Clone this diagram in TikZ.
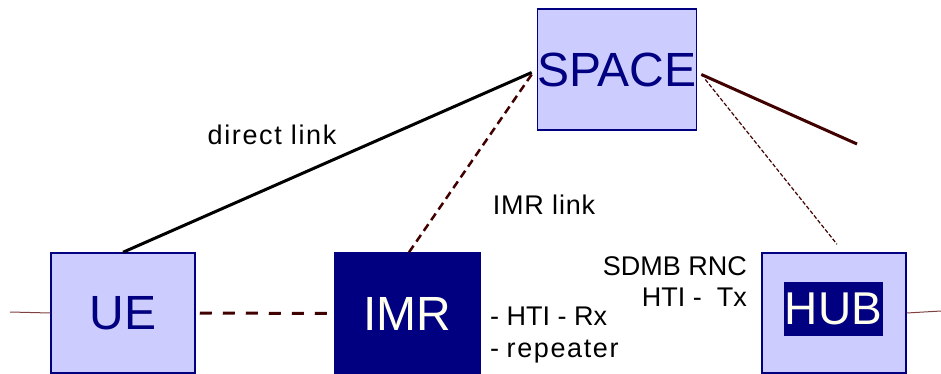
\documentclass[tikz,border=0pt]{standalone}
\usepackage{fontspec}
\setmainfont{Liberation Sans}
\newfontfamily\widesans[LetterSpace=6]{Liberation Sans}
\newfontfamily\midsans[LetterSpace=3]{Liberation Sans}
\definecolor{navy}{RGB}{0,0,128}
\definecolor{lav}{RGB}{204,204,255}
\definecolor{cream}{RGB}{255,255,240}
\definecolor{brn}{RGB}{64,0,0}
\definecolor{thinbrn}{RGB}{128,64,64}
\tikzset{
  unit/.style={draw=navy, line width=1.5pt, fill=lav, text=navy,
    minimum width=144, minimum height=120, inner sep=0pt,
    font=\fontsize{48}{48}\selectfont},
  darkunit/.style={unit, fill=navy, text=cream},
  lbl/.style={font=\fontsize{27}{32}\selectfont, inner sep=0pt},
  tail/.style={draw=thinbrn, line width=1pt},
}
\begin{document}
\begin{tikzpicture}[x=1pt, y=-1pt]
  \useasboundingbox (0,0) rectangle (941,374);

  % network elements
  \node[unit, minimum height=121] (space) at (617,69.5) {SPACE};
  \node[unit] (ue) at (123,313) {UE};
  \node[darkunit, minimum width=145, minimum height=121] (imr) at (407.5,313.5) {IMR};
  \node[unit] (hub) at (834,313) {};
  \node[fill=navy, text=cream, inner xsep=1pt, minimum height=54,
        font=\fontsize{46}{46}\selectfont] (hublabel) at (833.5,309) {HUB};

  % free ends
  \coordinate (lefttail) at (10,312);
  \coordinate (righttail) at (941,311);
  \coordinate (beam) at (857,144);

  % links
  \draw[line width=3pt] (ue.north) -- ([shift={(-5,3)}]space.west);
  \draw[brn, line width=2.5pt, dash pattern=on 8pt off 5pt]
    ([xshift=1.5pt]imr.north) -- ([shift={(-5,5)}]space.west);
  \draw[brn, line width=3pt, dash pattern=on 12pt off 11pt]
    ([xshift=4pt]ue.east) -- ([xshift=-5pt]imr.west);
  \draw[brn, line width=3pt] ([shift={(4,5)}]space.east) -- (beam);
  \draw[brn, line width=1.2pt, dash pattern=on 4pt off 2pt]
    ([shift={(8,10)}]space.east) -- ([shift={(3,-8)}]hub.north);
  \draw[tail] (lefttail) -- (ue.west);
  \draw[tail] (hub.east) -- (righttail);

  % labels
  \node[lbl] (direct) at (272,135) {\widesans direct link};
  \node[lbl] (imrlink) at (544,205) {\midsans IMR link};
  \node[lbl, anchor=east] (rnc) at (747,266) {SDMB RNC};
  \node[lbl, anchor=east] (htitx) at (747,297) {HTI -\ \ Tx};
  \node[lbl, anchor=west, align=left] (htirx) at (490,335)
    {- HTI - Rx\\- {\widesans repeater}};
\end{tikzpicture}
\end{document}
